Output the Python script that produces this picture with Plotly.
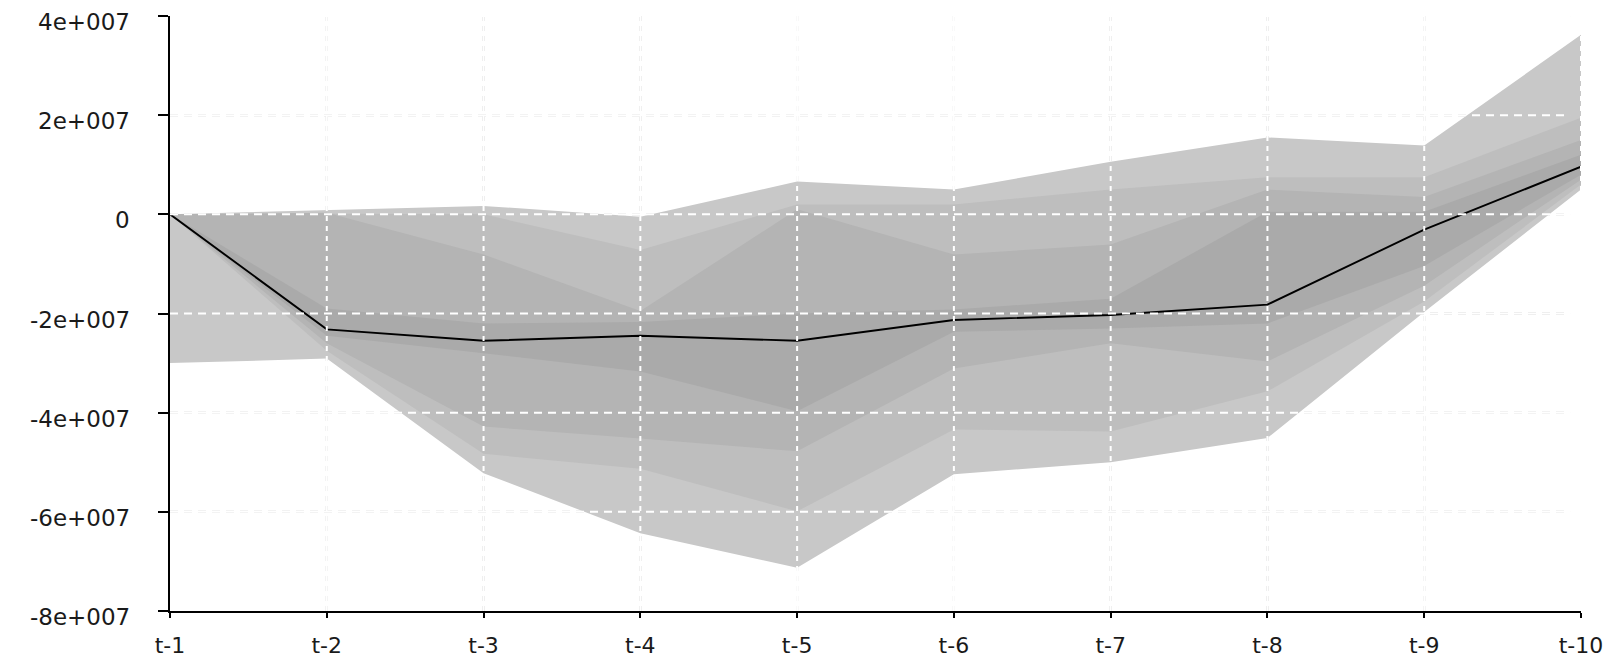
import plotly.graph_objects as go

labels = ["t-1", "t-2", "t-3", "t-4", "t-5", "t-6", "t-7", "t-8", "t-9", "t-10"]
xs = list(range(len(labels)))

median = [0, -2.32e7, -2.55e7, -2.45e7, -2.55e7, -2.13e7, -2.03e7, -1.82e7, -0.31e7, 0.96e7]

upper4 = [0, 0.08e7, 0.17e7, -0.05e7, 0.66e7, 0.50e7, 1.06e7, 1.55e7, 1.39e7, 3.62e7]
upper3 = [0, 0.01e7, 0.0, -0.72e7, 0.20e7, 0.20e7, 0.50e7, 0.75e7, 0.75e7, 1.95e7]
upper2 = [0, 0.03e7, -0.81e7, -1.95e7, 0.10e7, -0.81e7, -0.61e7, 0.50e7, 0.35e7, 1.50e7]
upper1 = [0, -1.90e7, -2.20e7, -2.17e7, -2.00e7, -1.92e7, -1.70e7, 0.05e7, 0.05e7, 1.20e7]

lower1 = [0, -2.45e7, -2.80e7, -3.17e7, -3.97e7, -2.37e7, -2.30e7, -2.20e7, -1.04e7, 0.80e7]
lower2 = [0, -2.60e7, -4.28e7, -4.52e7, -4.78e7, -3.11e7, -2.60e7, -2.97e7, -1.44e7, 0.70e7]
lower3 = [0, -2.75e7, -4.83e7, -5.13e7, -5.99e7, -4.34e7, -4.38e7, -3.57e7, -1.76e7, 0.60e7]
lower4 = [-3.00e7, -2.91e7, -5.22e7, -6.43e7, -7.13e7, -5.24e7, -5.00e7, -4.51e7, -1.97e7, 0.50e7]

band_colors = ["#c8c8c8", "#bebebe", "#b4b4b4", "#aaaaaa"]
ytick_vals = [4e7, 2e7, 0, -2e7, -4e7, -6e7, -8e7]
ytick_text = ["4e+007", "2e+007", "0", "-2e+007", "-4e+007", "-6e+007", "-8e+007"]

fig = go.Figure()
bands = [(upper4, lower4), (upper3, lower3), (upper2, lower2), (upper1, lower1)]
for (up, lo), col in zip(bands, band_colors):
    fig.add_trace(go.Scatter(
        x=xs + xs[::-1], y=up + lo[::-1], fill="toself", fillcolor=col,
        mode="lines", line=dict(width=0, color=col), hoverinfo="skip", showlegend=False))

fig.add_trace(go.Scatter(x=xs, y=median, mode="lines",
                         line=dict(color="black", width=1.9), showlegend=False))

shapes = []
# grid lines: grey on the white background, white where they cross the fan
for yv in ytick_vals[:-1]:
    shapes.append(dict(type="line", xref="x", yref="y", x0=xs[0], x1=xs[-1] - 0.07, y0=yv, y1=yv,
                       layer="below", line=dict(color="#bdbdbd", width=2, dash="8px,6px")))
    shapes.append(dict(type="line", xref="x", yref="y", x0=xs[0], x1=xs[-1] - 0.07, y0=yv, y1=yv,
                       layer="above", line=dict(color="white", width=2, dash="8px,6px")))
for xv in xs[1:]:
    shapes.append(dict(type="line", xref="x", yref="y", x0=xv, x1=xv, y0=ytick_vals[-1], y1=ytick_vals[0],
                       layer="below", line=dict(color="#bdbdbd", width=2, dash="5px,5px")))
    shapes.append(dict(type="line", xref="x", yref="y", x0=xv, x1=xv, y0=ytick_vals[-1], y1=ytick_vals[0],
                       layer="above", line=dict(color="white", width=2, dash="5px,5px")))

yfont = dict(family="DejaVu Sans", size=23, color="#1a1a1a")
xfont = dict(family="DejaVu Sans", size=22, color="#1a1a1a")

# y tick labels as annotations (sit slightly below their tick, as in the original)
annotations = [
    dict(x=0, xref="paper", y=v, yref="y", text=t, showarrow=False, xanchor="right",
         yanchor="middle", xshift=-38, yshift=-6, font=yfont)
    for v, t in zip(ytick_vals, ytick_text)
]

fig.update_layout(
    width=1614, height=650,
    margin=dict(l=162, r=41, t=8, b=47, autoexpand=False),
    paper_bgcolor="white", plot_bgcolor="white",
    shapes=shapes,
    annotations=annotations,
    font=xfont,
    xaxis=dict(range=[xs[0], xs[-1]], tickvals=xs, ticktext=labels, showgrid=False, zeroline=False,
               showline=True, linecolor="black", linewidth=2, ticks="outside", ticklen=5,
               tickcolor="black", tickwidth=2, ticklabelstandoff=9, tickfont=xfont, automargin=False,
               ticklabeloverflow="allow"),
    yaxis=dict(range=[ytick_vals[-1], ytick_vals[0]], tickvals=ytick_vals, showticklabels=False,
               showgrid=False, zeroline=False, showline=True, linecolor="black", linewidth=2,
               ticks="outside", ticklen=10, tickcolor="black", tickwidth=2, automargin=False),
)

fig.write_html("out.html")
